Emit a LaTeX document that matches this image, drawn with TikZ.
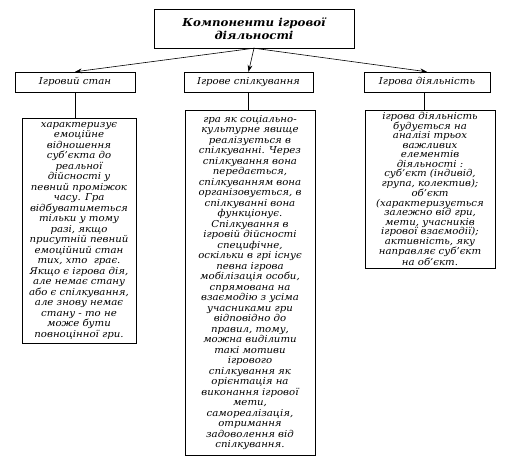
\documentclass[tikz,border=0pt]{standalone}
\usepackage{fontspec}
\setmainfont{DejaVu Serif}[FakeStretch=1.07]
\usetikzlibrary{arrows.meta,positioning,shadows}

\begin{document}
\begin{tikzpicture}[
  x=1pt,y=-1pt,
  font=\itshape\fontsize{9.5}{10.5}\selectfont,
  shade box/.style={draw,fill=white,align=center,
              drop shadow={shadow xshift=1.2pt,shadow yshift=-1.2pt,fill=black!55,opacity=1}},
  head/.style={shade box,minimum width=200pt,minimum height=39pt,
              font=\bfseries\itshape\fontsize{11}{13.5}\selectfont},
  kind/.style={shade box,minimum height=20pt},
  info/.style={shade box,inner sep=1pt},
  arrow/.style={-{Stealth[length=2.4mm,width=1.7mm]},semithick},
  link/.style={semithick}
]
\useasboundingbox (0,0) rectangle (507,460);
\node[head] (comp) at (254,28.5) {Компоненти ігрової\\діяльності};
\node[kind,minimum width=120pt] (stan) at (75,82) {Ігровий стан};
\node[kind,minimum width=129pt] (spil) at (248.5,82) {Ігрове спілкування};
\node[kind,minimum width=126pt] (diial) at (427,82) {Ігрова діяльність};

\node[info,minimum width=114pt,minimum height=225pt] (stanT) at (79,230.5)
 {характеризує\\емоційне\\відношення\\суб’єкта до\\реальної\\дійсності у\\певний проміжок\\часу. Гра\\
  відбуватиметься\\тільки у тому\\разі, якщо\\присутній певний\\емоційний стан\\тих, хто~~грає.\\
  Якщо є ігрова дія,\\але немає стану\\або є спілкування,\\але знову немає\\стану - то не\\може бути\\
  повноцінної гри.};
\node[info,minimum width=130pt,minimum height=345pt] (spilT) at (250,282.5)
 {гра як соціально-\\культурне явище\\реалізується в\\спілкуванні. Через\\спілкування вона\\передається,\\
  спілкуванням вона\\організовується, в\\спілкуванні вона\\функціонує.\\Спілкування в\\ігровій дійсності\\
  специфічне,\\оскільки в грі існує\\певна ігрова\\мобілізація особи,\\спрямована на\\взаємодію з усіма\\
  учасниками гри\\відповідно до\\правил, тому,\\можна виділити\\такі мотиви\\ігрового\\спілкування як\\
  орієнтація на\\виконання ігрової\\мети,\\самореалізація,\\отримання\\задоволення від\\спілкування.};
\node[info,minimum width=130pt,minimum height=158pt,
      font=\itshape\fontsize{9.5}{9.5}\selectfont] (diialT) at (430,189)
 {ігрова діяльність\\будується на\\аналізі трьох\\важливих\\елементів\\діяльності :\\суб’єкт (індивід,\\
  група, колектив);\\об’єкт\\(характеризується\\залежно від гри,\\мети, учасників\\ігрової взаємодії);\\
  активність, яку\\направляє суб’єкт\\на об’єкт.};

\draw[arrow] (comp.south) -- (stan.north);
\draw[arrow] (comp.south) -- (spil.north);
\draw[arrow] (comp.south) -- (diial.north);
\draw[link] (stan.south) -- (stan.south |- stanT.north);
\draw[link] (spil.south) -- (spil.south |- spilT.north);
\draw[link] ([xshift=-3pt]diial.south) -- ([xshift=-3pt]diial.south |- diialT.north);
\end{tikzpicture}
\end{document}
